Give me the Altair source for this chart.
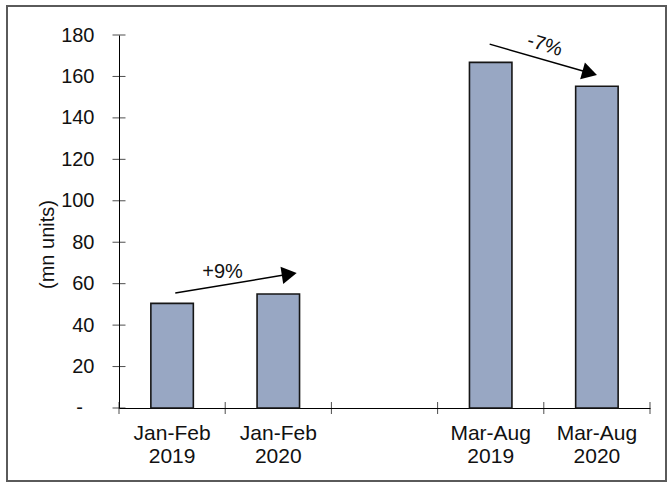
import altair as alt
import pandas as pd

# Unit sales by period (millions)
categories = ["Jan-Feb 2019", "Jan-Feb 2020", " ", "Mar-Aug 2019", "Mar-Aug 2020"]
units = [50.5, 55.0, None, 166.8, 155.3]

y_ticks = [0, 20, 40, 60, 80, 100, 120, 140, 160, 180]
band_edges = [0, 1, 2, 3, 4, 5]

# Growth arrows, positioned in band-index (x) and value (y) units
arrow_labels = ["+9%", "-7%"]
arrow_x0 = [0.53, 3.49]
arrow_y0 = [55.5, 175.6]
arrow_x1 = [1.58, 4.41]
arrow_y1 = [64.4, 162.0]
head_angle = [81, 106]
label_x = [0.975, 4.01]
label_y = [65.8, 175.1]
label_angle = [0, 17]

FONT = "Liberation Sans"
BAR_FILL = "#98a7c3"
W, H = 531, 373

bars_df = pd.DataFrame({"period": categories, "value": units}).dropna()
yticks_df = pd.DataFrame({"value": y_ticks})
zero_df = pd.DataFrame({"value": [0], "txt": ["-"]})
xticks_df = pd.DataFrame({"pos": band_edges})
arrows_df = pd.DataFrame({
    "label": arrow_labels,
    "x0": arrow_x0, "y0": arrow_y0,
    "x1": arrow_x1, "y1": arrow_y1,
    "head": head_angle,
    "lx": label_x, "ly": label_y, "la": label_angle,
})

y_scale = alt.Scale(domain=[0, 180], nice=False, zero=True)
y_axis = alt.Axis(
    values=y_ticks, ticks=False, tickSize=0, grid=False,
    domainColor="black", domainWidth=1,
    labelFont=FONT, labelFontSize=20, labelColor="#111", labelPadding=25,
    labelExpr="datum.value == 0 ? '' : datum.label",
    titleFont=FONT, titleFontSize=20, titleFontWeight="normal", titleColor="#111",
    titleAngle=270, titleX=-72, titleY=209, titleAlign="center", titleBaseline="middle",
)


def y_enc(field):
    return alt.Y(f"{field}:Q", scale=y_scale, axis=y_axis, title="(mn units)")


x_over = alt.Scale(domain=[0, 5], nice=False, zero=False)


def x_enc(field):
    return alt.X(f"{field}:Q", scale=x_over, axis=None)


bars = alt.Chart(bars_df).mark_bar(
    width=alt.RelativeBandSize(0.4), fill=BAR_FILL, stroke="#161616", strokeWidth=1.6
).encode(
    x=alt.X(
        "period:N",
        scale=alt.Scale(domain=categories, paddingInner=0, paddingOuter=0),
        axis=alt.Axis(
            title=None, ticks=False, tickSize=0, labelAngle=0, grid=False,
            domainColor="black", domainWidth=1,
            labelFont=FONT, labelFontSize=21, labelColor="#111",
            labelPadding=14, labelLineHeight=23,
            labelExpr="split(datum.label, ' ')",
        ),
        sort=categories,
    ),
    y=y_enc("value"),
)

# Axis ticks that cross the axis lines
y_tick_marks = alt.Chart(yticks_df).mark_tick(
    color="black", thickness=1, size=13, orient="horizontal"
).encode(x=alt.value(0), y=y_enc("value"))

# Accounting-style dash for the zero label, set in from the other labels
zero_label = alt.Chart(zero_df).mark_text(
    font=FONT, fontSize=20, color="#111", align="right", baseline="middle"
).encode(x=alt.value(-36), y=y_enc("value"), text="txt:N")

x_tick_marks = alt.Chart(xticks_df).mark_tick(
    color="black", thickness=1, size=12, orient="vertical"
).encode(x=x_enc("pos"), y=alt.value(H))

arrow_lines = alt.Chart(arrows_df).mark_rule(color="black", strokeWidth=1.5).encode(
    x=x_enc("x0"), x2="x1:Q", y=y_enc("y0"), y2="y1:Q"
)

arrow_heads = alt.Chart(arrows_df).mark_point(
    shape="triangle", filled=True, size=300, color="black", opacity=1
).encode(
    x=x_enc("x1"), y=y_enc("y1"), angle=alt.Angle("head:Q", scale=None)
)

arrow_text = alt.Chart(arrows_df).mark_text(
    font=FONT, fontSize=20, color="#111", align="center", baseline="middle"
).encode(
    x=x_enc("lx"), y=y_enc("ly"), text="label:N",
    angle=alt.Angle("la:Q", scale=None),
)

# Outer frame around the whole figure
frame = alt.Chart(bars_df).mark_rect(
    filled=False, stroke="#5a5a5a", strokeWidth=2
).encode(
    x=alt.value(7 - 119), x2=alt.value(666 - 119),
    y=alt.value(6 - 35), y2=alt.value(481 - 35),
)

chart = alt.layer(
    frame, bars, y_tick_marks, zero_label, x_tick_marks,
    arrow_lines, arrow_heads, arrow_text
).resolve_scale(x="independent").properties(
    width=W, height=H,
    autosize=alt.AutoSizeParams(type="none"),
    padding={"left": 119, "top": 35, "right": 21, "bottom": 75},
    background="white",
).configure_view(stroke=None)

chart.save("out.html", embed_options={"renderer": "svg", "actions": False})
